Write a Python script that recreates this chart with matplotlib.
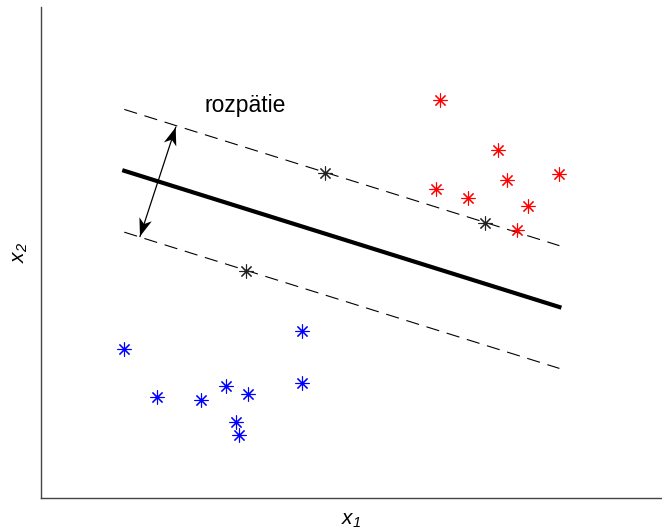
import matplotlib
matplotlib.use("Agg")
import matplotlib.pyplot as plt
from matplotlib.patches import Polygon
import numpy as np

plt.rcParams['font.family'] = ['Liberation Sans', 'DejaVu Sans']
plt.rcParams['mathtext.fontset'] = 'custom'
plt.rcParams['mathtext.it'] = 'Liberation Sans:italic'
plt.rcParams['mathtext.rm'] = 'Liberation Sans:italic'
plt.rcParams['mathtext.default'] = 'it'

# Class -1 (blue)
blue_x = [1.341, 1.863, 2.576, 2.974, 3.338, 3.135, 3.188, 4.203, 4.208]
blue_y = [2.422, 1.645, 1.601, 1.824, 1.689, 1.243, 1.026, 2.720, 1.878]
# Class +1 (red)
red_x = [6.430, 7.354, 8.346, 7.504, 6.356, 6.881, 7.847, 7.665]
red_y = [6.477, 5.668, 5.282, 5.174, 5.037, 4.891, 4.751, 4.365]
# Support vectors (black)
sv_x = [7.150, 4.578, 3.296]
sv_y = [4.474, 5.288, 3.702]

# Separating hyperplane y = slope*x + intercept, margin offsets
line_x = [1.341, 8.348]
slope = -0.3168
intercept = 5.756
margin = 1.0

# Margin arrow endpoints and annotation
arrow_top = (2.169, 6.040)
arrow_bottom = (1.594, 4.262)
label_text = "rozpätie"
label_pos = (3.285, 6.295)

fig = plt.figure(figsize=(6.62, 5.32), dpi=100)
ax = fig.add_axes([41/662, 34/532, 1 - 41/662, (498-7)/532])
ax.set_xlim(0, 10)
ax.set_ylim(0, 8)

lx = np.array(line_x)
ly = slope * lx + intercept
ax.plot(lx, ly, color='black', lw=3)
ax.plot(lx, ly + margin, color='black', lw=0.8, dashes=(12, 7))
ax.plot(lx, ly - margin, color='black', lw=0.8, dashes=(12, 7))

mk = (8, 2, 0)
ax.plot(blue_x, blue_y, ls='none', marker=mk, ms=10, mew=0.8, color='#0000ff')
ax.plot(red_x, red_y, ls='none', marker=mk, ms=10, mew=0.8, color='#ff0000')
ax.plot(sv_x, sv_y, ls='none', marker=mk, ms=10, mew=0.8, color='#222222')

# double-headed arrow with MATLAB-like concave heads
fig.canvas.draw()
p_top = ax.transData.transform(arrow_top)
p_bot = ax.transData.transform(arrow_bottom)
ax.plot([arrow_top[0], arrow_bottom[0]], [arrow_top[1], arrow_bottom[1]],
        color='black', lw=0.9)

def head(tip, other, length=18, width=6.5, notch=5):
    d = (other - tip) / np.linalg.norm(other - tip)
    n = np.array([-d[1], d[0]])
    pts = [tip,
           tip + d * length + n * width,
           tip + d * (length - notch),
           tip + d * length - n * width]
    inv = ax.transData.inverted()
    return Polygon(inv.transform(np.array(pts)), closed=True, color='black', lw=0)

ax.add_patch(head(p_top, p_bot))
ax.add_patch(head(p_bot, p_top))

ax.text(label_pos[0], label_pos[1], label_text, ha='center', va='baseline', fontsize=16.5)

ax.set_xticks([])
ax.set_yticks([])
for s in ['top', 'right']:
    ax.spines[s].set_visible(False)
for s in ['left', 'bottom']:
    ax.spines[s].set_color('#444444')
    ax.spines[s].set_linewidth(1.0)

ax.set_xlabel(r'$x_1$', fontsize=15, labelpad=9)
ax.set_ylabel(r'$x_2$', fontsize=15, labelpad=8)

fig.savefig('out.png', dpi=100)
